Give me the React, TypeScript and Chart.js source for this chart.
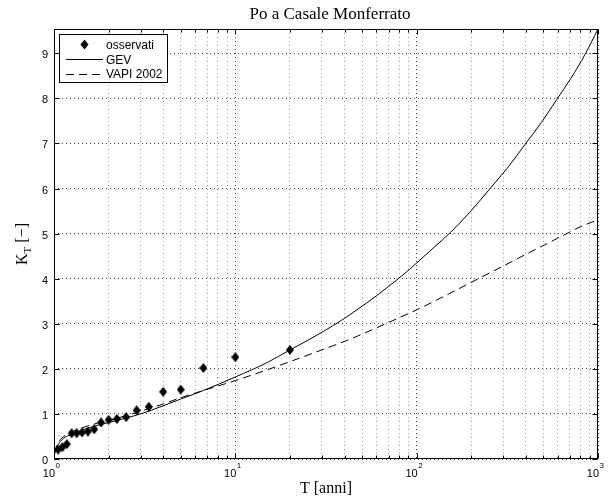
import React, { useEffect, useRef } from 'react';
import { Chart, registerables } from 'chart.js';

Chart.register(...registerables);

const chartTitle = 'Po a Casale Monferrato';
const xAxisTitle = 'T [anni]';
const yAxisMain = 'K';
const yAxisSub = 'T';
const yAxisTail = ' [\u2212]';
const legendLabels = ['osservati', 'GEV', 'VAPI 2002'];

// observed sample (return period T, growth factor K_T)
const observedT = [1.053, 1.111, 1.176, 1.25, 1.333, 1.429, 1.538, 1.667, 1.818, 2, 2.222, 2.5, 2.857, 3.333, 4, 5, 6.667, 10, 20];
const observedK = [0.21, 0.26, 0.33, 0.57, 0.57, 0.59, 0.61, 0.66, 0.81, 0.87, 0.89, 0.93, 1.08, 1.16, 1.49, 1.54, 2.02, 2.26, 2.42];

// GEV curve
const gevT = [1.01, 1.02, 1.04, 1.07, 1.1, 1.15, 1.2, 1.3, 1.5, 1.75, 2, 2.5, 3, 4, 5, 6.67, 10, 15, 20, 25, 30, 40, 50, 60, 70, 85, 100, 125, 153, 200, 254, 320, 396, 490, 593, 710, 849, 1000];
const gevK = [0.12, 0.19, 0.28, 0.36, 0.42, 0.48, 0.52, 0.58, 0.67, 0.75, 0.81, 0.91, 1.0, 1.18, 1.33, 1.52, 1.82, 2.14, 2.42, 2.63, 2.81, 3.12, 3.39, 3.62, 3.83, 4.1, 4.35, 4.7, 5.02, 5.51, 6.0, 6.48, 6.98, 7.48, 7.98, 8.45, 8.98, 9.54];

// VAPI 2002 curve
const vapiT = [1.01, 1.02, 1.04, 1.07, 1.1, 1.15, 1.2, 1.3, 1.5, 1.75, 2, 2.5, 3, 4, 5, 6.67, 10, 15, 20, 30, 40, 50, 70, 100, 150, 200, 300, 400, 600, 800, 1000];
const vapiK = [0.14, 0.22, 0.31, 0.4, 0.46, 0.52, 0.57, 0.63, 0.72, 0.8, 0.86, 0.96, 1.06, 1.22, 1.36, 1.52, 1.74, 1.98, 2.16, 2.42, 2.61, 2.77, 3.03, 3.31, 3.66, 3.92, 4.28, 4.54, 4.9, 5.15, 5.31];

const xTickValues = [1, 2, 3, 4, 5, 6, 7, 8, 9, 10, 20, 30, 40, 50, 60, 70, 80, 90, 100, 200, 300, 400, 500, 600, 700, 800, 900, 1000];
const xLabelExponents = [0, 1, 2, 3];
const yTickValues = [0, 1, 2, 3, 4, 5, 6, 7, 8, 9];

const SANS = '"Liberation Sans", Arial, sans-serif';
const SERIF = '"Liberation Serif", "Times New Roman", serif';

const isPow10 = (v: number) => Math.abs(Math.log10(v) - Math.round(Math.log10(v))) < 1e-9;

function makeDiamond(): HTMLCanvasElement {
  const c = document.createElement('canvas');
  c.width = 8;
  c.height = 10;
  const g = c.getContext('2d')!;
  g.fillStyle = '#000';
  g.beginPath();
  g.moveTo(4, 0);
  g.lineTo(8, 5);
  g.lineTo(4, 10);
  g.lineTo(0, 5);
  g.closePath();
  g.fill();
  return c;
}

const decorPlugin = {
  id: 'matlabDecor',
  afterDraw(chart: any) {
    const { ctx, chartArea: a, scales } = chart;
    const xs = scales.x;
    const ys = scales.y;
    const L = Math.round(a.left) + 0.5;
    const R = Math.round(a.right) - 0.5;
    const T = Math.round(a.top) + 0.5;
    const B = Math.round(a.bottom) - 0.5;
    ctx.save();
    ctx.strokeStyle = '#000';
    ctx.fillStyle = '#000';
    ctx.lineWidth = 1;
    ctx.setLineDash([]);
    const seg = (x1: number, y1: number, x2: number, y2: number) => {
      ctx.beginPath();
      ctx.moveTo(x1, y1);
      ctx.lineTo(x2, y2);
      ctx.stroke();
    };
    // axes box
    ctx.strokeRect(L, T, R - L, B - T);
    // y ticks & labels
    ctx.font = '11px ' + SANS;
    ctx.textAlign = 'right';
    ctx.textBaseline = 'alphabetic';
    yTickValues.forEach((v) => {
      const py = Math.round(ys.getPixelForValue(v)) + 0.5;
      seg(L, py, L + 5, py);
      seg(R - 5, py, R, py);
      ctx.fillText(String(v), a.left - 6, py + 4);
    });
    // x ticks
    xTickValues.forEach((v) => {
      const px = Math.round(xs.getPixelForValue(v)) + 0.5;
      const len = isPow10(v) ? 5 : 3;
      seg(px, B, px, B - len);
      seg(px, T, px, T + len);
    });
    // x labels 10^n
    xLabelExponents.forEach((e) => {
      const px = xs.getPixelForValue(Math.pow(10, e));
      ctx.font = '11px ' + SANS;
      ctx.textAlign = 'right';
      ctx.fillText('10', px + 1, 477);
      ctx.font = '8px ' + SANS;
      ctx.textAlign = 'left';
      ctx.fillText(String(e), px + 1.5, 468);
    });
    // title
    ctx.font = '17px ' + SERIF;
    ctx.textAlign = 'center';
    ctx.fillText(chartTitle, 330, 19);
    // x axis title
    ctx.font = '16px ' + SERIF;
    ctx.fillText(xAxisTitle, (a.left + a.right) / 2, 493);
    // y axis title (rotated, with subscript)
    ctx.save();
    ctx.translate(27, (a.top + a.bottom) / 2);
    ctx.rotate(-Math.PI / 2);
    ctx.textAlign = 'left';
    ctx.font = '16px ' + SERIF;
    const wK = ctx.measureText(yAxisMain).width;
    const wTail = ctx.measureText(yAxisTail).width;
    ctx.font = '11px ' + SERIF;
    const wSub = ctx.measureText(yAxisSub).width;
    let x0 = -(wK + wSub + wTail) / 2;
    ctx.font = '16px ' + SERIF;
    ctx.fillText(yAxisMain, x0, 0);
    x0 += wK;
    ctx.font = '11px ' + SERIF;
    ctx.fillText(yAxisSub, x0, 4);
    x0 += wSub;
    ctx.font = '16px ' + SERIF;
    ctx.fillText(yAxisTail, x0, 0);
    ctx.restore();
    // legend
    ctx.fillStyle = '#fff';
    ctx.fillRect(59.5, 34.5, 108, 48);
    ctx.strokeStyle = '#000';
    ctx.strokeRect(59.5, 34.5, 108, 48);
    ctx.fillStyle = '#000';
    ctx.beginPath();
    ctx.moveTo(84.5, 39.5);
    ctx.lineTo(88.5, 44.5);
    ctx.lineTo(84.5, 49.5);
    ctx.lineTo(80.5, 44.5);
    ctx.closePath();
    ctx.fill();
    seg(66, 59.5, 103, 59.5);
    ctx.setLineDash([8, 5]);
    seg(66, 74.5, 103, 74.5);
    ctx.setLineDash([]);
    ctx.font = '12px ' + SANS;
    ctx.textAlign = 'left';
    ctx.fillText(legendLabels[0], 106, 48.5);
    ctx.fillText(legendLabels[1], 106, 63.5);
    ctx.fillText(legendLabels[2], 106, 78);
    ctx.restore();
  },
};

export default function App() {
  const ref = useRef<HTMLCanvasElement | null>(null);
  useEffect(() => {
    if (!ref.current) return;
    const diamond = makeDiamond();
    const toPts = (xsArr: number[], ysArr: number[]) => xsArr.map((x, i) => ({ x, y: ysArr[i] }));
    const gridColor = (ctx: any) => {
      const v = ctx.tick ? ctx.tick.value : 0;
      return ctx.scale.axis === 'x' && !isPow10(v) ? '#9a9a9a' : '#444';
    };
    const chart = new Chart(ref.current, {
      type: 'line',
      data: {
        datasets: [
          {
            label: legendLabels[1],
            data: toPts(gevT, gevK),
            borderColor: '#000',
            borderWidth: 1,
            pointRadius: 0,
            fill: false,
            cubicInterpolationMode: 'monotone',
          },
          {
            label: legendLabels[2],
            data: toPts(vapiT, vapiK),
            borderColor: '#000',
            borderWidth: 1,
            borderDash: [8, 5],
            pointRadius: 0,
            fill: false,
            cubicInterpolationMode: 'monotone',
          },
          {
            label: legendLabels[0],
            data: toPts(observedT, observedK),
            showLine: false,
            pointStyle: diamond as any,
            pointRadius: 5,
            borderColor: '#000',
            backgroundColor: '#000',
          },
        ],
      },
      options: {
        animation: false,
        responsive: false,
        devicePixelRatio: 1,
        layout: { padding: { left: 54, top: 29, right: 18, bottom: 42 } },
        plugins: {
          legend: { display: false },
          title: { display: false },
          tooltip: { enabled: false },
        },
        scales: {
          x: {
            type: 'logarithmic',
            min: 1,
            max: 1000,
            afterBuildTicks: (s: any) => {
              s.ticks = xTickValues.map((v) => ({ value: v }));
            },
            afterFit: (s: any) => {
              s.height = 0;
            },
            ticks: { display: false },
            grid: { color: gridColor, lineWidth: 1, drawTicks: false },
            border: { display: false, dash: [1, 3] },
          },
          y: {
            type: 'linear',
            min: 0,
            max: 9.54,
            afterBuildTicks: (s: any) => {
              s.ticks = yTickValues.map((v) => ({ value: v }));
            },
            afterFit: (s: any) => {
              s.width = 0;
            },
            ticks: { display: false },
            grid: { color: gridColor, lineWidth: 1, drawTicks: false },
            border: { display: false, dash: [1, 3] },
          },
        },
      } as any,
      plugins: [decorPlugin],
    });
    return () => chart.destroy();
  }, []);
  return (
    <div style={{ position: 'absolute', left: 0, top: 0, width: 616, height: 501, background: '#fff' }}>
      <canvas ref={ref} width={616} height={501} style={{ display: 'block', width: 616, height: 501 }} />
    </div>
  );
}
